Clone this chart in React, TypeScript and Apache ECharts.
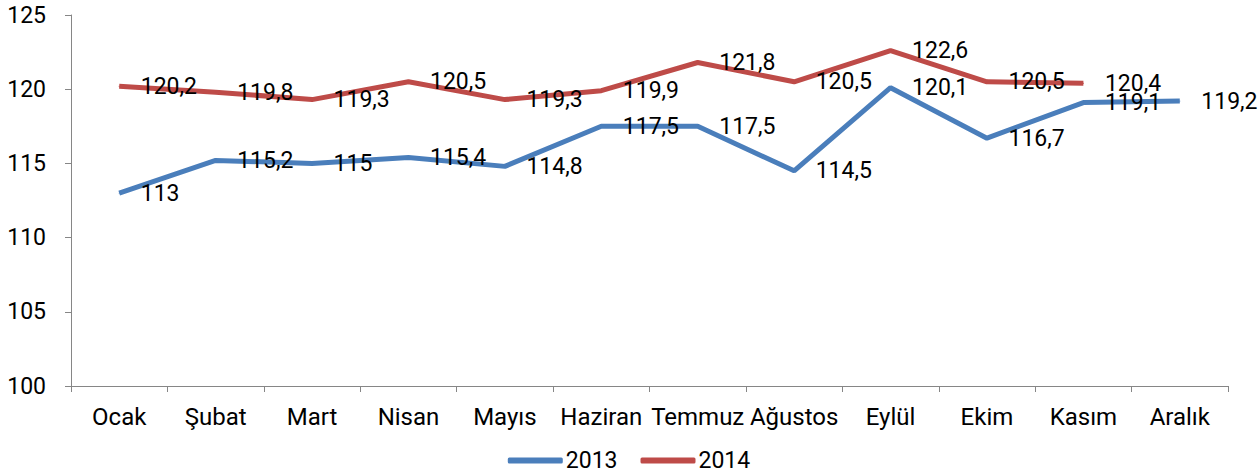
import React, { useEffect, useRef } from "react";
import * as echarts from "echarts";

const categories = ["Ocak", "Şubat", "Mart", "Nisan", "Mayıs", "Haziran", "Temmuz", "Ağustos", "Eylül", "Ekim", "Kasım", "Aralık"];
const values2013 = [113, 115.2, 115, 115.4, 114.8, 117.5, 117.5, 114.5, 120.1, 116.7, 119.1, 119.2];
const values2014 = [120.2, 119.8, 119.3, 120.5, 119.3, 119.9, 121.8, 120.5, 122.6, 120.5, 120.4];

const FONT = "Roboto, 'Liberation Sans', sans-serif";

export default function App() {
  const ref = useRef<HTMLDivElement>(null);
  useEffect(() => {
    if (!ref.current) return;
    const chart = echarts.init(ref.current, null, { renderer: "svg" });
    const label = {
      show: true,
      position: "right" as const,
      distance: 21,
      fontFamily: FONT,
      fontSize: 23,
      color: "#000",
      formatter: (p: any) => String(p.value).replace(".", ","),
    };
    chart.setOption({
      animation: false,
      textStyle: { fontFamily: FONT },
      grid: { left: 71, right: 30, top: 15, bottom: 89, containLabel: false },
      legend: {
        top: 444,
        left: "center",
        icon: "roundRect",
        itemWidth: 55,
        itemHeight: 6,
        itemGap: 23,
        textStyle: { fontFamily: FONT, fontSize: 23, color: "#000", padding: [0, 0, 0, -2] },
        data: ["2013", "2014"],
      },
      xAxis: {
        type: "category",
        data: categories,
        boundaryGap: true,
        axisLine: { lineStyle: { color: "#868686", width: 1 } },
        axisTick: { show: true, length: 6, alignWithLabel: false, lineStyle: { color: "#868686" } },
        axisLabel: { interval: 0, fontFamily: FONT, fontSize: 24, color: "#000", margin: 19 },
      },
      yAxis: {
        type: "value",
        min: 100,
        max: 125,
        interval: 5,
        axisLine: { show: true, lineStyle: { color: "#868686", width: 1 } },
        axisTick: { show: true, length: 6, lineStyle: { color: "#868686" } },
        splitLine: { show: false },
        axisLabel: { fontFamily: FONT, fontSize: 23, color: "#000", margin: 25 },
      },
      series: [
        {
          name: "2013",
          type: "line",
          data: values2013,
          color: "#4A7EBB",
          symbol: "circle",
          symbolSize: 1,
          lineStyle: { width: 5, color: "#4A7EBB" },
          label,
        },
        {
          name: "2014",
          type: "line",
          data: values2014,
          color: "#BE4B48",
          symbol: "circle",
          symbolSize: 1,
          lineStyle: { width: 5, color: "#BE4B48" },
          label,
        },
      ],
    });
    return () => chart.dispose();
  }, []);
  return (
    <div
      ref={ref}
      style={{ position: "absolute", left: 0, top: 0, width: 1258, height: 475 }}
    />
  );
}
